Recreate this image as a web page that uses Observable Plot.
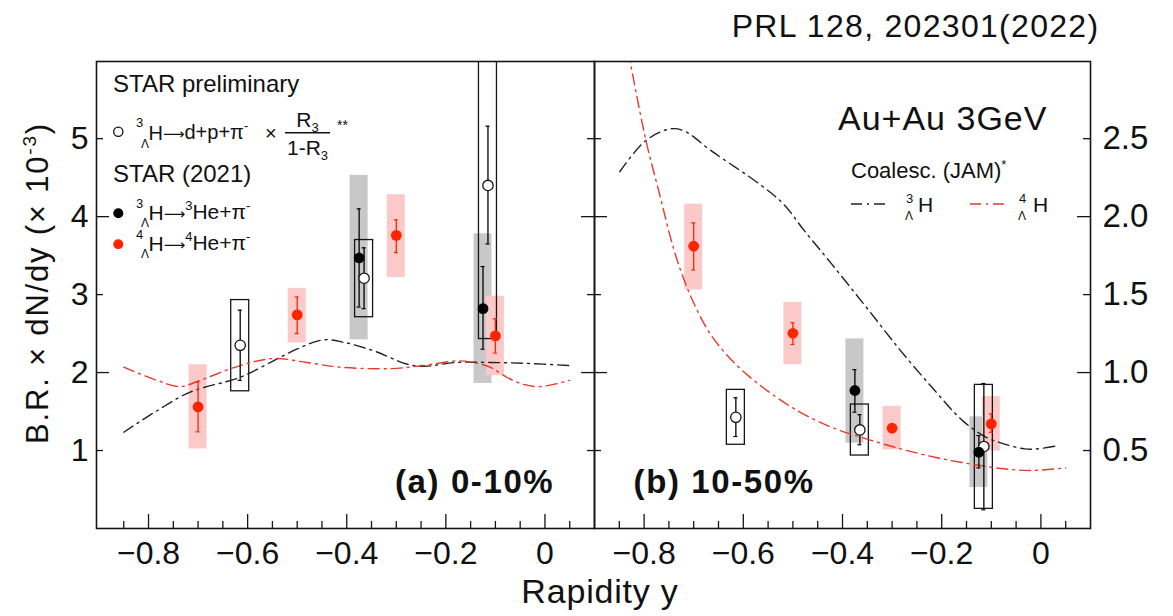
<!DOCTYPE html>
<html><head><meta charset="utf-8">
<script src="https://cdn.jsdelivr.net/npm/d3@7"></script>
<script src="https://cdn.jsdelivr.net/npm/@observablehq/plot@0.6"></script>
<style>
html,body{margin:0;padding:0;background:#fff;}
#wrap{position:relative;width:1173px;height:616px;overflow:hidden;font-family:"Liberation Sans",Arial,Helvetica,sans-serif;color:#111;background:#fff;}
#wrap > svg{position:absolute;top:0;}
</style></head><body><div id="wrap"></div>
<script>
// ---------- Panel (a) 0-10%  (units: 10^-3) ----------
const a_h3_rap = [-0.375, -0.125];
const a_h3_val = [3.47, 2.82];
const a_h3_statLo = [2.84, 2.30];
const a_h3_statHi = [4.10, 3.36];
const a_h3_sysLo = [2.42, 1.86];
const a_h3_sysHi = [4.53, 3.78];

const a_pre_rap = [-0.615, -0.365, -0.115];
const a_pre_val = [2.35, 3.21, 4.40];
const a_pre_statLo = [1.90, 2.82, 3.65];
const a_pre_statHi = [2.80, 3.60, 5.16];
const a_pre_sysLo = [1.76, 2.71, 2.43];
const a_pre_sysHi = [2.93, 3.70, 6.5];

const a_h4_rap = [-0.70, -0.50, -0.30, -0.10];
const a_h4_val = [1.56, 2.74, 3.76, 2.47];
const a_h4_statLo = [1.24, 2.50, 3.54, 2.25];
const a_h4_statHi = [1.88, 2.97, 3.96, 2.69];
const a_h4_sysLo = [1.02, 2.38, 3.22, 1.96];
const a_h4_sysHi = [2.10, 3.08, 4.28, 2.98];

const a_jam3_rap = [-0.85, -0.783, -0.716, -0.615, -0.548, -0.501, -0.447, -0.407, -0.346, -0.279, -0.246, -0.178, -0.111, -0.044, 0.05];
const a_jam3_val = [1.235, 1.51, 1.75, 1.94, 2.15, 2.30, 2.42, 2.39, 2.28, 2.11, 2.08, 2.13, 2.13, 2.12, 2.09];
const a_jam4_rap = [-0.85, -0.783, -0.736, -0.696, -0.615, -0.548, -0.481, -0.414, -0.313, -0.246, -0.178, -0.145, -0.111, -0.077, -0.044, -0.010, 0.05];
const a_jam4_val = [2.07, 1.90, 1.82, 1.90, 2.09, 2.18, 2.13, 2.07, 2.05, 2.09, 2.15, 2.13, 2.07, 1.94, 1.85, 1.82, 1.90];

// ---------- Panel (b) 10-50%  (right-axis units) ----------
const b_h3_rap = [-0.375, -0.125];
const b_h3_val = [0.885, 0.489];
const b_h3_statLo = [0.746, 0.389];
const b_h3_statHi = [1.019, 0.596];
const b_h3_sysLo = [0.547, 0.263];
const b_h3_sysHi = [1.216, 0.716];

const b_pre_rap = [-0.615, -0.365, -0.115];
const b_pre_val = [0.713, 0.632, 0.526];
const b_pre_statLo = [0.59, 0.537, 0.12];
const b_pre_statHi = [0.838, 0.73, 0.93];
const b_pre_sysLo = [0.537, 0.468, 0.126];
const b_pre_sysHi = [0.889, 0.795, 0.921];

const b_h4_rap = [-0.70, -0.50, -0.30, -0.10];
const b_h4_val = [1.81, 1.252, 0.643, 0.671];
const b_h4_statLo = [1.658, 1.18, 0.62, 0.617];
const b_h4_statHi = [1.96, 1.32, 0.67, 0.735];
const b_h4_sysLo = [1.53, 1.05, 0.504, 0.496];
const b_h4_sysHi = [2.08, 1.45, 0.784, 0.846];

const b_jam3_rap = [-0.849, -0.797, -0.748, -0.720, -0.665, -0.568, -0.519, -0.477, -0.422, -0.352, -0.283, -0.214, -0.158, -0.110, -0.075, -0.033, -0.006, 0.036];
const b_jam3_val = [2.288, 2.487, 2.562, 2.551, 2.423, 2.21, 2.081, 1.91, 1.697, 1.419, 1.141, 0.885, 0.692, 0.585, 0.543, 0.511, 0.511, 0.532];
const b_jam4_rap = [-0.832, -0.797, -0.769, -0.741, -0.72, -0.699, -0.665, -0.616, -0.561, -0.491, -0.422, -0.352, -0.283, -0.214, -0.144, -0.075, -0.019, 0.05];
const b_jam4_val = [3.06, 2.498, 2.146, 1.80, 1.60, 1.44, 1.24, 1.056, 0.906, 0.756, 0.649, 0.575, 0.511, 0.457, 0.415, 0.383, 0.372, 0.389];

// ---------- ticks ----------
const xMajorTicks = [-0.8, -0.6, -0.4, -0.2, 0];
const xMinorTicks = [-0.85, -0.75, -0.7, -0.65, -0.55, -0.5, -0.45, -0.35, -0.3, -0.25, -0.15, -0.1, -0.05, 0.05];
const aYLabels = [1, 2, 3, 4, 5];
const aYMajor = [2, 4];
const aYMinor = [1, 3, 5];
const bYLabels = [0.5, 1.0, 1.5, 2.0, 2.5];
const bYMajor = [1, 2];
const bYMinor = [0.5, 1.5, 2.5];

// ---------- styling ----------
const GRAY = "#c8c8c8", PINK = "#fcc9c9", RED = "#ff2400", RED_LINE = "#e8392b", INK = "#151515";
const DASH = "11,5,2,5";
const TOP = 61, BOTTOM = 528, HEIGHT = 616;
const FONT = "'Liberation Sans', Arial, Helvetica, sans-serif";

function rows(rap, val, lo, hi, slo, shi) {
  return rap.map((r, i) => ({r, v: val[i], lo: lo[i], hi: hi[i], slo: slo[i], shi: shi[i]}));
}
function pts(xs, ys) { return xs.map((x, i) => ({x, y: ys[i]})); }

function errBars(data, stroke) {
  return [
    Plot.ruleX(data, {x: "r", y1: "lo", y2: "hi", stroke, strokeWidth: 1.3}),
    Plot.ruleY(data, {y: "lo", x1: "r", x2: "r", insetLeft: -2, insetRight: -2, stroke, strokeWidth: 1.2}),
    Plot.ruleY(data, {y: "hi", x1: "r", x2: "r", insetLeft: -2, insetRight: -2, stroke, strokeWidth: 1.2})
  ];
}

function panel(o) {
  const innerW = o.width - o.marginLeft - o.marginRight;
  const innerH = BOTTOM - TOP;
  const h3 = rows(...o.h3), pre = rows(...o.pre), h4 = rows(...o.h4);
  const marks = [
    Plot.rect(h3, {x1: "r", x2: "r", y1: "slo", y2: "shi", insetLeft: -9, insetRight: -9, fill: GRAY, clip: true}),
    Plot.rect(h4, {x1: "r", x2: "r", y1: "slo", y2: "shi", insetLeft: -9, insetRight: -9, fill: PINK, clip: true}),
    Plot.rect(pre, {x1: "r", x2: "r", y1: "slo", y2: "shi", insetLeft: -9, insetRight: -9, fill: "none", stroke: INK, strokeWidth: 1.3, clip: true}),
    Plot.line(pts(...o.jam3), {x: "x", y: "y", curve: "catmull-rom", stroke: "#222", strokeWidth: 1.4, strokeDasharray: DASH, clip: true}),
    Plot.line(pts(...o.jam4), {x: "x", y: "y", curve: "catmull-rom", stroke: RED_LINE, strokeWidth: 1.4, strokeDasharray: DASH, clip: true}),
    ...errBars(h3, "#000"),
    ...errBars(pre, "#000"),
    ...errBars(h4, RED),
    Plot.dot(pre, {x: "r", y: "v", r: 5.2, fill: "#fff", stroke: INK, strokeWidth: 1.3}),
    Plot.dot(h3, {x: "r", y: "v", r: 5.4, fill: "#000"}),
    Plot.dot(h4, {x: "r", y: "v", r: 5.4, fill: RED}),
    // inward ticks
    Plot.tickX(xMajorTicks, {x: d => d, insetTop: innerH - 14, stroke: INK, strokeWidth: 1.3}),
    Plot.tickX(xMinorTicks, {x: d => d, insetTop: innerH - 7, stroke: INK, strokeWidth: 1.3}),
    Plot.tickY(o.yMajor, {y: d => d, insetRight: innerW - 13, stroke: INK, strokeWidth: 1.3}),
    Plot.tickY(o.yMinor, {y: d => d, insetRight: innerW - 7, stroke: INK, strokeWidth: 1.3}),
    Plot.tickY(o.yMajor, {y: d => d, insetLeft: innerW - 13, stroke: INK, strokeWidth: 1.3}),
    Plot.tickY(o.yMinor, {y: d => d, insetLeft: innerW - 7, stroke: INK, strokeWidth: 1.3}),
    Plot.frame({stroke: INK, strokeWidth: 1.6}),
    Plot.axisX({ticks: xMajorTicks, tickSize: 0, tickPadding: 13, fontSize: 32,
      tickFormat: d => d === 0 ? "0" : "\u2212" + Math.abs(d).toFixed(1)}),
    o.yAxis
  ];
  return Plot.plot({
    width: o.width, height: HEIGHT,
    marginLeft: o.marginLeft, marginRight: o.marginRight, marginTop: TOP, marginBottom: HEIGHT - BOTTOM,
    x: {domain: o.xDomain}, y: {domain: o.yDomain},
    style: {fontFamily: FONT, background: "transparent", overflow: "visible", color: "#111"},
    marks
  });
}

const wrap = document.getElementById("wrap");

const left = panel({
  width: 594, marginLeft: 96, marginRight: 0,
  xDomain: [-0.905, 0.1], yDomain: [0, 5.99],
  h3: [a_h3_rap, a_h3_val, a_h3_statLo, a_h3_statHi, a_h3_sysLo, a_h3_sysHi],
  pre: [a_pre_rap, a_pre_val, a_pre_statLo, a_pre_statHi, a_pre_sysLo, a_pre_sysHi],
  h4: [a_h4_rap, a_h4_val, a_h4_statLo, a_h4_statHi, a_h4_sysLo, a_h4_sysHi],
  jam3: [a_jam3_rap, a_jam3_val], jam4: [a_jam4_rap, a_jam4_val],
  yMajor: aYMajor, yMinor: aYMinor,
  yAxis: Plot.axisY({ticks: aYLabels, tickSize: 0, tickPadding: 8, fontSize: 32, tickFormat: d => String(d)})
});
left.style.left = "0px";
wrap.appendChild(left);

const right = panel({
  width: 579, marginLeft: 0, marginRight: 83,
  xDomain: [-0.9, 0.1], yDomain: [0, 2.995],
  h3: [b_h3_rap, b_h3_val, b_h3_statLo, b_h3_statHi, b_h3_sysLo, b_h3_sysHi],
  pre: [b_pre_rap, b_pre_val, b_pre_statLo, b_pre_statHi, b_pre_sysLo, b_pre_sysHi],
  h4: [b_h4_rap, b_h4_val, b_h4_statLo, b_h4_statHi, b_h4_sysLo, b_h4_sysHi],
  jam3: [b_jam3_rap, b_jam3_val], jam4: [b_jam4_rap, b_jam4_val],
  yMajor: bYMajor, yMinor: bYMinor,
  yAxis: Plot.axisY({anchor: "right", ticks: bYLabels, tickSize: 0, tickPadding: 12, fontSize: 33, tickFormat: d => d.toFixed(1)})
});
right.style.left = "594px";
wrap.appendChild(right);

// ---------- annotations & legends ----------
const ov = d3.select(wrap).append("svg")
  .attr("width", 1173).attr("height", 616)
  .style("left", "0px").style("pointer-events", "none")
  .attr("font-family", FONT).attr("fill", "#111");

const ARROW = `<tspan font-family="'DejaVu Sans', sans-serif" font-size="15" dy="-1">⟶</tspan><tspan dy="1"></tspan>`;

ov.node().innerHTML = `
<text x="731.7" y="36.7" font-size="32" letter-spacing="1.3">PRL 128, 202301(2022)</text>
<text transform="translate(48,283) rotate(-90)" text-anchor="middle" font-size="31" letter-spacing="1.8">B.R. × dN/dy (× 10<tspan dy="-12" font-size="19">-3</tspan><tspan dy="12">)</tspan></text>
<text x="600" y="603" text-anchor="middle" font-size="34" letter-spacing="0.8">Rapidity y</text>
<text x="395" y="493" font-size="33" font-weight="bold" letter-spacing="1.6">(a) 0-10%</text>
<text x="633.6" y="493" font-size="33" font-weight="bold" letter-spacing="1.6">(b) 10-50%</text>
<text x="838" y="130" font-size="34" letter-spacing="1">Au+Au 3GeV</text>

<text x="113" y="92" font-size="24">STAR preliminary</text>
<circle cx="118.3" cy="131.7" r="4.6" fill="#fff" stroke="#111" stroke-width="1.3"/>
<text x="136" y="127" font-size="13">3</text>
<text x="141" y="147.5" font-size="12">Λ</text>
<text x="148.5" y="140" font-size="20">H${ARROW}d+p+π<tspan dy="-9" font-size="13">-</tspan></text>
<text x="265" y="140" font-size="20">×</text>
<text x="307.5" y="127" font-size="21" text-anchor="middle">R<tspan dy="5" font-size="13">3</tspan></text>
<line x1="285" x2="330" y1="132.7" y2="132.7" stroke="#111" stroke-width="1.4"/>
<text x="307.5" y="155" font-size="21" text-anchor="middle">1-R<tspan dy="5" font-size="13">3</tspan></text>
<text x="337" y="130" font-size="14">**</text>

<text x="113" y="182" font-size="24">STAR (2021)</text>
<circle cx="118.3" cy="213.3" r="5" fill="#000"/>
<text x="136" y="208" font-size="13">3</text>
<text x="141" y="227" font-size="12">Λ</text>
<text x="148.5" y="220" font-size="21">H${ARROW}<tspan dy="-9" font-size="13">3</tspan><tspan dy="9">He+π</tspan><tspan dy="-9" font-size="13">-</tspan></text>
<circle cx="118.3" cy="244.3" r="5" fill="${RED}"/>
<text x="136" y="239" font-size="13">4</text>
<text x="141" y="258" font-size="12">Λ</text>
<text x="148.5" y="251" font-size="21">H${ARROW}<tspan dy="-9" font-size="13">4</tspan><tspan dy="9">He+π</tspan><tspan dy="-9" font-size="13">-</tspan></text>

<text x="851" y="178" font-size="22">Coalesc. (JAM)<tspan dy="-9" font-size="13">*</tspan></text>
<line x1="851" x2="887" y1="204" y2="204" stroke="#222" stroke-width="1.4" stroke-dasharray="${DASH}"/>
<text x="906" y="203" font-size="13">3</text>
<text x="905" y="220" font-size="12">Λ</text>
<text x="918" y="212" font-size="21">H</text>
<line x1="970" x2="1004" y1="204" y2="204" stroke="${RED_LINE}" stroke-width="1.4" stroke-dasharray="${DASH}"/>
<text x="1019" y="203" font-size="13">4</text>
<text x="1018" y="220" font-size="12">Λ</text>
<text x="1033" y="212" font-size="21">H</text>
`;
</script></body></html>
